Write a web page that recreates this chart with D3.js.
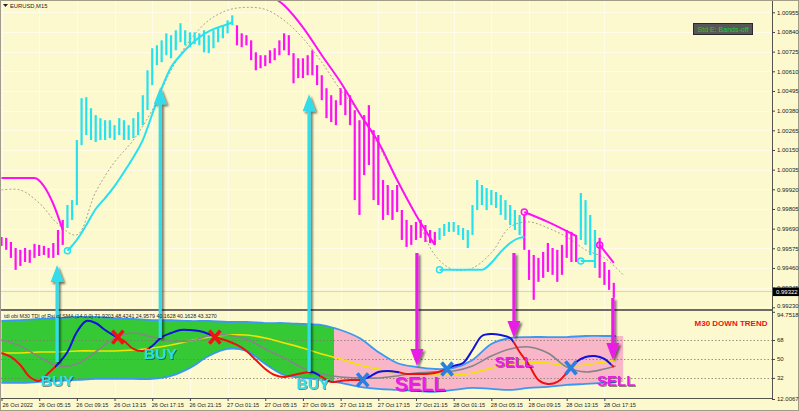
<!DOCTYPE html>
<html lang="en">
<head>
<meta charset="UTF-8">
<title>EURUSD M15 with TDI</title>
<script src="https://d3js.org/d3.v7.min.js"></script>
<style>
  body { margin: 0; background: #fdf9cf; }
  svg { display: block; font-family: 'Liberation Sans', Arial, sans-serif; }
</style>
</head>
<body>
<svg width="799" height="411"></svg>
<script>
// x runs in 30-minute slots from 26 Oct 01:15 (slot 0) to the last bar (slot 130)
const barHigh = [
  0.99641, 0.99636, 0.99612, 0.99577, 0.99566, 0.99577, 0.99566, 0.99601, 0.99595, 0.99589,
  0.99577, 0.99606, 0.99682, 0.99741, 0.99828, 0.99857, 1.00208, 1.00453, 1.00459, 1.00394,
  1.00354, 1.00336, 1.00324, 1.00324, 1.00295, 1.00336, 1.00324, 1.00295, 1.00336, 1.00371,
  1.00470, 1.00616, 1.00745, 1.00762, 1.00791, 1.00832, 1.00821, 1.00850, 1.00891, 1.00850,
  1.00838, 1.00838, 1.00832, 1.00850, 1.00821, 1.00850, 1.00867, 1.00879, 1.00908, 1.00937,
  1.00879, 1.00832, 1.00821, 1.00791, 1.00721, 1.00704, 1.00704, 1.00733, 1.00745, 1.00791,
  1.00832, 1.00821, 1.00716, 1.00686, 1.00686, 1.00704, 1.00733, 1.00646, 1.00587, 1.00511,
  1.00470, 1.00441, 1.00511, 1.00500, 1.00470, 1.00383, 1.00324, 1.00354, 1.00412, 1.00266,
  1.00237, 0.99974, 0.99945, 0.99916, 0.99945, 0.99799, 0.99741, 0.99711, 0.99729, 0.99741,
  0.99711, 0.99682, 0.99671, 0.99694, 0.99717, 0.99729, 0.99729, 0.99711, 0.99694, 0.99682,
  0.99828, 0.99974, 0.99945, 0.99927, 0.99916, 0.99904, 0.99887, 0.99857, 0.99828, 0.99799,
  0.99770, 0.99770, 0.99566, 0.99536, 0.99519, 0.99554, 0.99606, 0.99577, 0.99566, 0.99595,
  0.99682, 0.99671, 0.99653, 0.99898, 0.99857, 0.99770, 0.99682, 0.99636, 0.99495, 0.99449,
  0.99373
];
const barLow = [
  0.99589, 0.99566, 0.99519, 0.99449, 0.99472, 0.99495, 0.99490, 0.99519, 0.99530, 0.99536,
  0.99519, 0.99519, 0.99536, 0.99595, 0.99694, 0.99741, 0.99828, 1.00178, 1.00237, 1.00208,
  1.00196, 1.00208, 1.00208, 1.00219, 1.00208, 1.00237, 1.00208, 1.00208, 1.00219, 1.00237,
  1.00295, 1.00383, 1.00529, 1.00646, 1.00663, 1.00704, 1.00686, 1.00733, 1.00780, 1.00762,
  1.00751, 1.00768, 1.00762, 1.00721, 1.00716, 1.00745, 1.00780, 1.00803, 1.00832, 1.00879,
  1.00762, 1.00751, 1.00762, 1.00675, 1.00616, 1.00628, 1.00640, 1.00657, 1.00675, 1.00704,
  1.00733, 1.00704, 1.00540, 1.00570, 1.00570, 1.00587, 1.00587, 1.00529, 1.00441, 1.00336,
  1.00313, 1.00295, 1.00412, 1.00354, 1.00295, 0.99857, 0.99770, 1.00003, 1.00062, 0.99857,
  0.99828, 0.99741, 0.99770, 0.99741, 0.99787, 0.99624, 0.99583, 0.99595, 0.99624, 0.99636,
  0.99612, 0.99606, 0.99595, 0.99624, 0.99647, 0.99671, 0.99671, 0.99653, 0.99624, 0.99577,
  0.99653, 0.99799, 0.99828, 0.99799, 0.99828, 0.99811, 0.99770, 0.99741, 0.99711, 0.99682,
  0.99653, 0.99566, 0.99390, 0.99274, 0.99379, 0.99402, 0.99437, 0.99420, 0.99379, 0.99420,
  0.99519, 0.99495, 0.99495, 0.99624, 0.99595, 0.99536, 0.99460, 0.99402, 0.99361, 0.99332,
  0.99285
];
const lastPrice = 0.99322;

// bar colour: trend changes at these slots
const trendStart = [0, 14, 50, 93, 111, 123, 127];
const trendDir = [-1, 1, -1, 1, -1, 1, -1];

// dotted middle line, one value every 4 slots
const midLine = [
  0.99916, 0.99916, 0.99840, 0.99717, 0.99653, 0.99904, 1.00079, 1.00208, 1.00383, 1.00616,
  1.00791, 1.00908, 1.00967, 1.00984, 1.00972, 1.00908, 1.00803, 1.00663, 1.00500, 1.00365,
  1.00178, 0.99974, 0.99770, 0.99536, 0.99449, 0.99460, 0.99548, 0.99700, 0.99729, 0.99694,
  0.99641, 0.99566, 0.99519, 0.99420
];

// trailing stop lines: [slot, price]
const downStop1 = [[0, 0.99986], [4, 0.99986], [7, 0.99986], [9, 0.99939], [11, 0.99834], [13, 0.99682]];
const upStop1 = [[14, 0.99560], [16, 0.99624], [18, 0.99711], [20, 0.99805], [22, 0.99869], [24, 0.99939],
  [26, 1.00021], [28, 1.00108], [30, 1.00208], [32, 1.00359], [34, 1.00511], [36, 1.00634], [38, 1.00704],
  [40, 1.00762], [42, 1.00809], [44, 1.00844], [46, 1.00867], [48, 1.00885], [49, 1.00897]];
const downStop2 = [[50, 1.01434], [54, 1.01229], [58, 1.01043], [60, 1.00996], [64, 1.00867], [68, 1.00704],
  [72, 1.00546], [76, 1.00365], [80, 1.00196], [84, 0.99974], [88, 0.99770], [92, 0.99595]];
const upStop2 = [[93, 0.99449], [96, 0.99449], [100, 0.99449], [102, 0.99449], [104, 0.99490], [106, 0.99554],
  [108, 0.99606], [110, 0.99636], [111, 0.99641]];
const downStop3 = [[111, 0.99787], [116, 0.99729], [122, 0.99647]];
const upStop3 = [[123, 0.99501], [126, 0.99501]];
const downStop4 = [[127, 0.99595], [130, 0.99490]];

const priceTicks = [0.99230, 0.99345, 0.99460, 0.99575, 0.99690, 0.99805, 0.99920, 1.00035,
  1.00150, 1.00265, 1.00380, 1.00495, 1.00610, 1.00725, 1.00840, 1.00955];
const timeSlots = [0, 8, 16, 24, 32, 40, 48, 56, 64, 72, 80, 88, 96, 104, 112, 120, 128];
const timeLabels = ['26 Oct 2022', '26 Oct 05:15', '26 Oct 09:15', '26 Oct 13:15', '26 Oct 17:15',
  '26 Oct 21:15', '27 Oct 01:15', '27 Oct 05:15', '27 Oct 09:15', '27 Oct 13:15', '27 Oct 17:15',
  '27 Oct 21:15', '28 Oct 01:15', '28 Oct 05:15', '28 Oct 09:15', '28 Oct 13:15', '28 Oct 17:15'];

// TDI: fast line every 2 slots, the others every 4 slots
const tdiFast = [
  55.7, 51.9, 44.3, 32.9, 29.2, 36.7, 45.3, 56.6, 75.6, 86.0, 84.1, 77.5, 71.8, 67.1, 59.5, 57.6,
  62.3, 70.8, 74.6, 77.5, 77.5, 76.5, 73.7, 69.9, 67.1, 63.3, 57.6, 49.1, 40.5, 34.8, 32.9, 34.8,
  36.7, 37.7, 32.9, 28.2, 29.2, 30.1, 30.1, 32.9, 37.7, 38.6, 37.7, 35.8, 35.8, 35.8, 36.7, 39.6,
  43.4, 46.2, 58.5, 71.8, 73.7, 72.7, 69.9, 56.6, 44.3, 30.1, 26.3, 28.2, 36.7, 47.2, 51.9, 52.8,
  50.0, 42.4
];
const tdiSignal = [
  68.0, 62.3, 51.9, 43.4, 45.3, 56.6, 69.9, 74.6, 70.8, 67.1, 67.1, 71.8, 72.7, 68.9, 59.5, 50.9,
  41.5, 35.8, 32.9, 32.0, 32.0, 33.9, 36.7, 37.7, 38.6, 43.4, 52.8, 59.5, 61.4, 55.7, 42.4, 37.7,
  40.5, 45.3
];
const tdiBase = [
  55.7, 55.7, 56.6, 56.6, 57.6, 57.6, 57.6, 58.5, 60.4, 63.3, 67.1, 70.8, 72.7, 72.7, 69.9, 65.2,
  60.4, 54.7, 50.0, 44.3, 40.5, 36.7, 34.8, 34.8, 34.8, 36.7, 41.5, 45.3, 46.2, 46.2, 43.4, 44.3,
  47.2, 49.1
];
const bandUpper = [
  86.0, 86.9, 87.9, 88.8, 89.8, 89.8, 88.8, 87.9, 86.9, 86.9, 86.0, 86.0, 85.1, 85.1, 84.1, 84.1,
  83.2, 82.2, 77.5, 69.9, 56.6, 46.2, 42.4, 40.5, 41.5, 49.1, 64.2, 69.9, 70.8, 70.8, 70.8, 71.8,
  71.8, 71.8
];
const bandLower = [
  27.3, 27.3, 28.2, 29.2, 30.1, 31.1, 31.1, 31.1, 31.1, 33.9, 41.5, 52.8, 59.5, 57.6, 45.3, 34.8,
  32.0, 30.1, 27.3, 23.5, 21.6, 20.6, 19.7, 18.7, 20.6, 22.5, 21.6, 20.6, 22.5, 23.5, 25.4, 26.3,
  27.3, 28.2
];
const tdiLevels = [32, 50, 68];
const tdiTicks = [12.0067, 32, 50, 68, 94.7518];
const trendFlipSlot = 70.6;          // M30 band turns from up (green) to down (pink)
const fastColorChanges = [11.3, 24.6, 31.4, 45.2, 65.6, 67.6, 76.6, 84.5, 94.5, 108.5, 120.8, 129.5];

// signals
const buyArrowSlot = [11.8, 33.7, 65.3];
const buyArrowFrom = [47.2, 69.9, 37.7];        // TDI level of the tail
const buyArrowTo = [0.99478, 1.00517, 1.00476]; // price of the tip
const sellArrowSlot = [88.2, 108.8, 129.8];
const sellArrowFrom = [0.99548, 0.99548, 0.99285];
const sellArrowTo = [43.4, 69.9, 49.1];
const buyLabelSlot = [11.8, 33.7, 66.1];
const buyLabelLevel = [24.4, 50.0, 21.6];
const sellLabelSlot = [88.9, 108.8, 130.5];
const sellLabelLevel = [19.7, 42.4, 24.4];
const sellLabelSize = [20, 15, 15];
const crossSlot = [24.7, 45.3, 76.7, 94.6, 120.9];
const crossLevel = [70.8, 70.8, 30.1, 40.5, 41.5];
const crossUp = [false, false, true, true, true];

const svg = d3.select('svg');
const width = 799, height = 411;
const plotRight = 772;
const mainBottom = 309;
const indTop = 311, indBottom = 398;
const cyan = '#25e2ee', magenta = '#ff10f5';

const x = d3.scaleLinear().domain([0, 130]).range([1.5, 1.5 + 4.71 * 130]);
const y = d3.scaleLinear().domain([0.99230, 1.00955]).range([307.3, 12.3]);
const yi = d3.scaleLinear().domain([12.0067, 94.7518]).range([399, 311.8]);

const defs = svg.append('defs');
defs.append('clipPath').attr('id', 'clipMain').append('rect')
  .attr('x', 1).attr('y', 1).attr('width', plotRight - 1).attr('height', mainBottom - 1);
defs.append('clipPath').attr('id', 'clipInd').append('rect')
  .attr('x', 1).attr('y', indTop).attr('width', plotRight - 1).attr('height', indBottom - indTop);
defs.append('clipPath').attr('id', 'clipGreen').append('rect')
  .attr('x', 0).attr('y', indTop).attr('width', x(trendFlipSlot)).attr('height', indBottom - indTop);
defs.append('clipPath').attr('id', 'clipPink').append('rect')
  .attr('x', x(trendFlipSlot)).attr('y', indTop).attr('width', plotRight - x(trendFlipSlot)).attr('height', indBottom - indTop);
defs.append('clipPath').attr('id', 'clipLines').append('rect')
  .attr('x', 0).attr('y', indTop).attr('width', x(130) + 2).attr('height', indBottom - indTop);

const shadow = defs.append('filter').attr('id', 'shadow')
  .attr('x', '-50%').attr('y', '-20%').attr('width', '200%').attr('height', '140%');
shadow.append('feDropShadow').attr('dx', 2).attr('dy', 2).attr('stdDeviation', 1.3)
  .attr('flood-color', '#000').attr('flood-opacity', 0.55);
const tshadow = defs.append('filter').attr('id', 'tshadow');
tshadow.append('feDropShadow').attr('dx', 1).attr('dy', 1).attr('stdDeviation', 0.6)
  .attr('flood-color', '#000').attr('flood-opacity', 0.45);

// fast line colour (red below / blue above)
const grad = defs.append('linearGradient').attr('id', 'fastGrad')
  .attr('gradientUnits', 'userSpaceOnUse')
  .attr('x1', x(0)).attr('x2', x(130)).attr('y1', 0).attr('y2', 0);
const span = x(130) - x(0);
let col = '#ee1111';
grad.append('stop').attr('offset', 0).attr('stop-color', col);
fastColorChanges.forEach(s => {
  const off = (x(s) - x(0)) / span;
  grad.append('stop').attr('offset', off).attr('stop-color', col);
  col = col === '#ee1111' ? '#1212dd' : '#ee1111';
  grad.append('stop').attr('offset', off).attr('stop-color', col);
});
grad.append('stop').attr('offset', 1).attr('stop-color', col);

// background and grid
svg.append('rect').attr('width', width).attr('height', height).attr('fill', '#fdf9cf');
const grid = svg.append('g').attr('stroke', '#fffde9').attr('stroke-width', 1);
grid.selectAll('.gx').data(timeSlots).join('line')
  .attr('x1', d => Math.round(x(d)) + 0.5).attr('x2', d => Math.round(x(d)) + 0.5)
  .attr('y1', 1).attr('y2', indBottom);
grid.selectAll('.gy').data(priceTicks).join('line')
  .attr('x1', 1).attr('x2', plotRight)
  .attr('y1', d => Math.round(y(d)) + 0.5).attr('y2', d => Math.round(y(d)) + 0.5);

// ---------- main panel ----------
const mainG = svg.append('g').attr('clip-path', 'url(#clipMain)');

mainG.append('line').attr('x1', 1).attr('x2', plotRight)
  .attr('y1', y(lastPrice)).attr('y2', y(lastPrice))
  .attr('stroke', '#d9d5b4').attr('stroke-width', 1);

mainG.append('path').datum(midLine)
  .attr('fill', 'none').attr('stroke', '#aaa392').attr('stroke-width', 1)
  .attr('stroke-dasharray', '2,2')
  .attr('d', d3.line().x((d, i) => x(i * 4)).y(d => y(d)).curve(d3.curveCatmullRom));

const trendAt = i => trendDir[d3.bisectRight(trendStart, i) - 1];
mainG.append('g').selectAll('rect').data(barHigh).join('rect')
  .attr('x', (d, i) => x(i) - 1.1)
  .attr('width', 2.2)
  .attr('y', d => y(d))
  .attr('height', (d, i) => Math.max(1, y(barLow[i]) - y(d)))
  .attr('fill', (d, i) => trendAt(i) > 0 ? cyan : magenta);

const stopLine = d3.line().x(d => x(d[0])).y(d => y(d[1])).curve(d3.curveMonotoneX);
const stops = [
  [downStop1, magenta, false], [upStop1, cyan, true], [downStop2, magenta, true],
  [upStop2, cyan, true], [downStop3, magenta, true], [upStop3, cyan, true], [downStop4, magenta, true]
];
stops.forEach(([pts, c, mark]) => {
  mainG.append('path').datum(pts)
    .attr('fill', 'none').attr('stroke', c).attr('stroke-width', 2)
    .attr('d', stopLine);
  if (mark) {
    mainG.append('circle')
      .attr('cx', x(pts[0][0])).attr('cy', y(pts[0][1])).attr('r', 3)
      .attr('fill', 'none').attr('stroke', c).attr('stroke-width', 1.5);
  }
});

// ---------- indicator panel ----------
const indG = svg.append('g').attr('clip-path', 'url(#clipInd)');
const band = d3.area().x((d, i) => x(i * 4))
  .y0((d, i) => yi(bandLower[i])).y1(d => yi(d)).curve(d3.curveCatmullRom);
indG.append('path').datum(bandUpper).attr('clip-path', 'url(#clipGreen)')
  .attr('fill', '#35c935').attr('d', band);
indG.append('path').datum(bandUpper).attr('clip-path', 'url(#clipPink)')
  .attr('fill', '#f8b6c8').attr('d', band);

indG.selectAll('.lvl').data(tdiLevels).join('line')
  .attr('x1', 1).attr('x2', plotRight)
  .attr('y1', d => Math.round(yi(d)) + 0.5).attr('y2', d => Math.round(yi(d)) + 0.5)
  .attr('stroke', '#7d7a6a').attr('stroke-width', 0.8).attr('stroke-dasharray', '1.5,2');

const lines = indG.append('g').attr('clip-path', 'url(#clipLines)').attr('fill', 'none');
const line4 = d3.line().x((d, i) => x(i * 4)).y(d => yi(d)).curve(d3.curveCatmullRom);
lines.append('path').datum(bandUpper).attr('stroke', '#3a98f0').attr('stroke-width', 1.8).attr('d', line4);
lines.append('path').datum(bandLower).attr('stroke', '#3a98f0').attr('stroke-width', 1.8).attr('d', line4);
lines.append('path').datum(tdiBase).attr('stroke', '#f0e400').attr('stroke-width', 1.6).attr('d', line4);
lines.append('path').datum(tdiSignal).attr('stroke', '#858585').attr('stroke-width', 1.6).attr('d', line4);
lines.append('path').datum(tdiFast).attr('stroke', 'url(#fastGrad)').attr('stroke-width', 2)
  .attr('d', d3.line().x((d, i) => x(i * 2)).y(d => yi(d)).curve(d3.curveCatmullRom));

// crosses
crossSlot.forEach((s, i) => {
  const cx = x(s), cy = yi(crossLevel[i]);
  svg.append('path')
    .attr('d', `M${cx - 5.5},${cy - 6.5}L${cx + 5.5},${cy + 6.5}M${cx + 5.5},${cy - 6.5}L${cx - 5.5},${cy + 6.5}`)
    .attr('stroke', crossUp[i] ? '#2b7fe0' : '#ee1414').attr('stroke-width', 3.6).attr('fill', 'none');
});

// frame and axes
svg.append('line').attr('x1', 0).attr('x2', plotRight).attr('y1', 310).attr('y2', 310)
  .attr('stroke', '#6e6c62').attr('stroke-width', 2);
svg.append('line').attr('x1', 0).attr('x2', plotRight + 0.5).attr('y1', indBottom + 0.5).attr('y2', indBottom + 0.5)
  .attr('stroke', '#55544c').attr('stroke-width', 1);
svg.append('line').attr('x1', plotRight + 0.5).attr('x2', plotRight + 0.5).attr('y1', 0).attr('y2', indBottom + 1)
  .attr('stroke', '#55544c').attr('stroke-width', 1);
svg.append('rect').attr('x', 0.5).attr('y', 0.5).attr('width', width - 1).attr('height', height - 1)
  .attr('fill', 'none').attr('stroke', '#a29c86');

function styleAxis(g, size) {
  g.select('.domain').remove();
  g.selectAll('line').attr('stroke', '#444');
  g.selectAll('text').attr('font-size', size).attr('font-family', "'Liberation Sans', Arial, sans-serif").attr('fill', '#222');
}
svg.append('g').attr('transform', `translate(${plotRight},0)`)
  .call(d3.axisRight(y).tickValues(priceTicks).tickSize(3).tickPadding(2).tickFormat(d3.format('.5f')))
  .call(g => styleAxis(g, 6))
  .call(g => g.selectAll('.tick').filter(d => d === priceTicks[0]).select('text').attr('dy', '0.1em'));
svg.append('g').attr('transform', `translate(${plotRight},0)`)
  .call(d3.axisRight(yi).tickValues(tdiTicks).tickSize(3).tickPadding(2)
    .tickFormat(d => Number.isInteger(d) ? d : d.toFixed(4)))
  .call(g => styleAxis(g, 6))
  .call(g => g.selectAll('.tick').filter(d => d === tdiTicks[4]).select('text').attr('dy', '0.75em'));
svg.append('g').attr('transform', `translate(0,${indBottom})`)
  .call(d3.axisBottom(x).tickValues(timeSlots).tickSize(3).tickFormat((d, i) => timeLabels[i]))
  .call(g => styleAxis(g, 5.6))
  .call(g => g.selectAll('text').attr('text-anchor', 'start').attr('x', (d, i) => i === 0 ? 0.5 : -1)
    .attr('y', 5).attr('dy', '0.71em'));

// last price tag
svg.append('rect').attr('x', plotRight + 1).attr('y', y(lastPrice) - 4).attr('width', 26).attr('height', 8.5).attr('fill', '#000');
svg.append('text').attr('x', plotRight + 4).attr('y', y(lastPrice) + 2.3)
  .attr('font-size', 6).attr('fill', '#fff').text(lastPrice.toFixed(5));

// arrows
function arrow(cx, yFrom, yTo, color) {
  const s = yFrom > yTo ? 1 : -1;
  const b = yTo + s * 17;
  const d = `M${cx},${yTo}L${cx + 6.5},${b}L${cx + 1.6},${b}L${cx + 1.6},${yFrom}` +
    `L${cx - 1.6},${yFrom}L${cx - 1.6},${b}L${cx - 6.5},${b}Z`;
  svg.append('path').attr('d', d).attr('fill', color).attr('filter', 'url(#shadow)');
}
buyArrowSlot.forEach((s, i) => arrow(x(s), yi(buyArrowFrom[i]), y(buyArrowTo[i]), '#30dcea'));
sellArrowSlot.forEach((s, i) => arrow(x(s), y(sellArrowFrom[i]), yi(sellArrowTo[i]), '#e81ee6'));

// signal labels
buyLabelSlot.forEach((s, i) => {
  svg.append('text').attr('x', x(s)).attr('y', yi(buyLabelLevel[i]))
    .attr('text-anchor', 'middle').attr('font-size', 15.5).attr('font-weight', 'bold')
    .attr('fill', '#2fdcec').attr('filter', 'url(#tshadow)').text('BUY');
});
sellLabelSlot.forEach((s, i) => {
  svg.append('text').attr('x', x(s)).attr('y', yi(sellLabelLevel[i]))
    .attr('text-anchor', 'middle').attr('font-size', sellLabelSize[i]).attr('font-weight', 'bold')
    .attr('fill', '#ec1ee8').attr('filter', 'url(#tshadow)').text('SELL');
});

// texts
svg.append('path').attr('d', 'M3,4L8,4L5.5,7Z').attr('fill', '#222');
svg.append('text').attr('x', 10).attr('y', 8).attr('font-size', 5.8).attr('fill', '#222').text('EURUSD,M15');
svg.append('text').attr('x', 4).attr('y', 318).attr('font-size', 5.3).attr('fill', '#222')
  .text('tdi obi M30 TDI of Rsi of SMA (14,0,0) 71.9203 48.4241 24.9579 40.1628 40.1628 43.3270');
svg.append('text').attr('x', 731).attr('y', 326).attr('text-anchor', 'middle')
  .attr('font-size', 8).attr('font-weight', 'bold').attr('fill', '#ee1111').text('M30 DOWN TREND');
svg.append('rect').attr('x', 693.5).attr('y', 23.5).attr('width', 59).attr('height', 11)
  .attr('fill', '#575757').attr('stroke', '#2a2a2a');
svg.append('text').attr('x', 723).attr('y', 31.8).attr('text-anchor', 'middle')
  .attr('font-size', 7).attr('fill', '#22d022').text('Std E: Bands-off');
</script>
</body>
</html>
